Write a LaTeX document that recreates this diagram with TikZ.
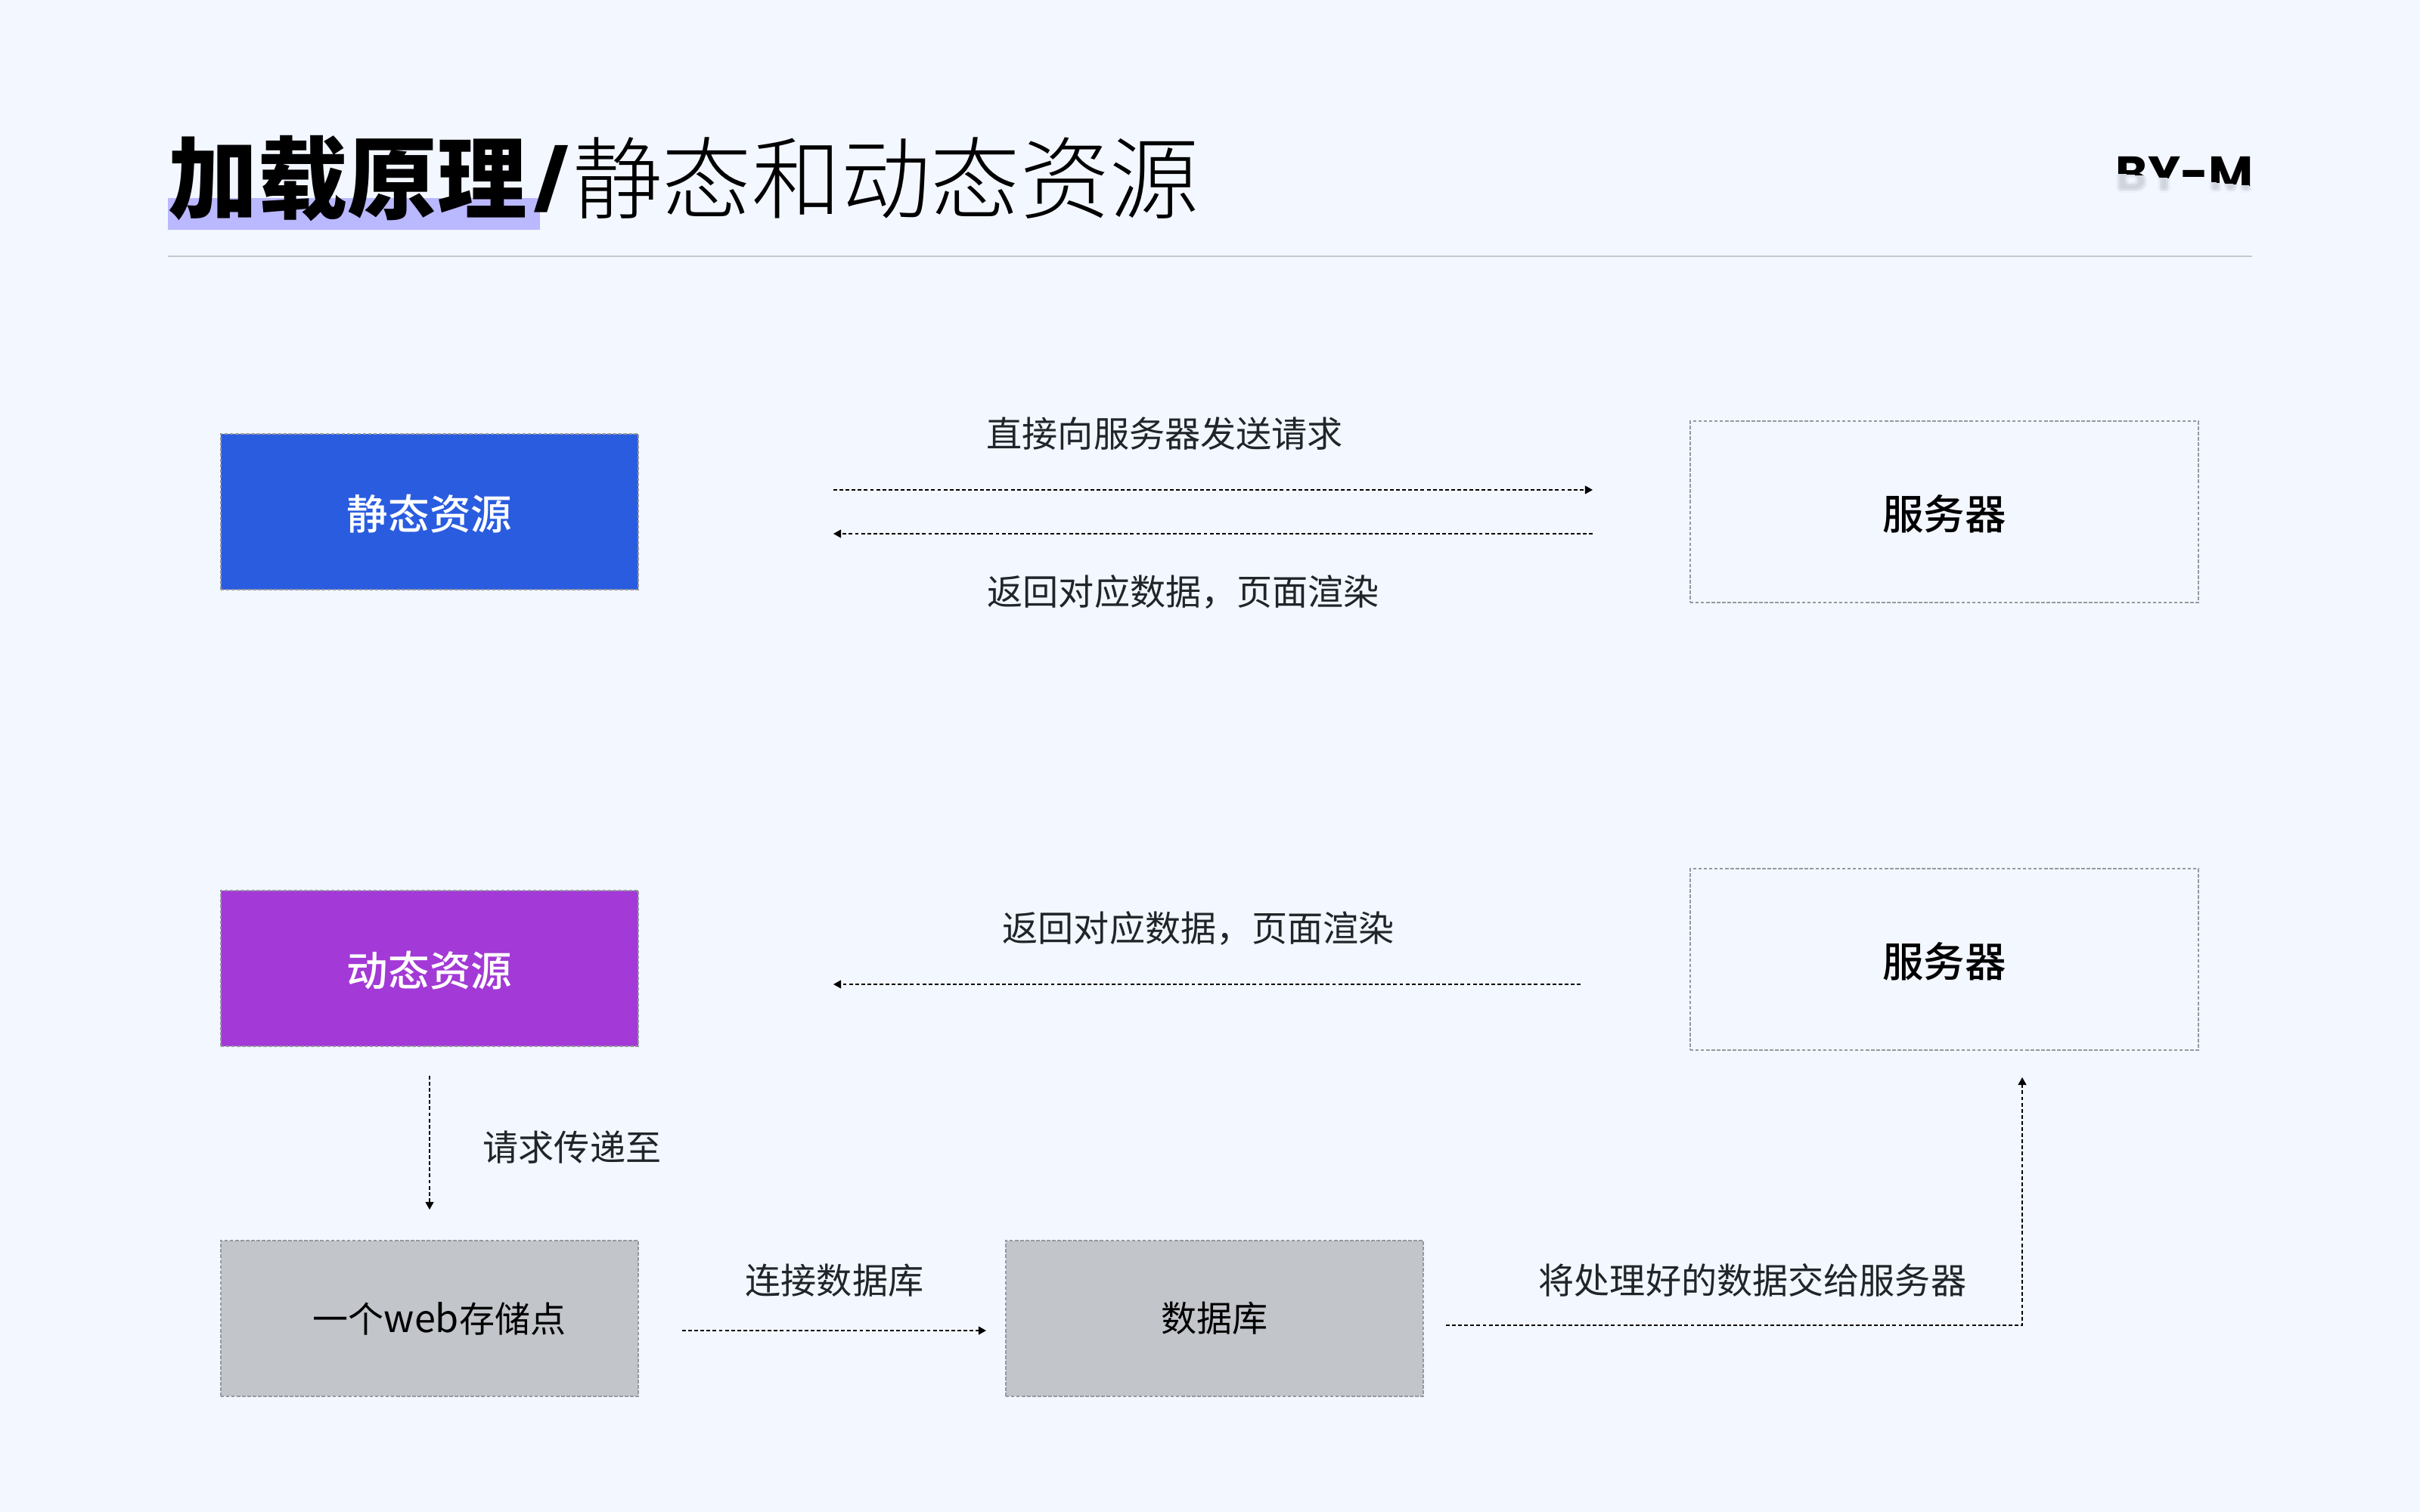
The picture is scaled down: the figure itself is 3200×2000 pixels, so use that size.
\documentclass[tikz,border=0pt]{standalone}
\usepackage{fontspec}
\usetikzlibrary{arrows.meta}
\newfontfamily\cjk{Noto Sans CJK SC}
\newfontfamily\cjkblack{Noto Sans CJK SC Black}
\newfontfamily\cjklight{Noto Sans CJK SC Light}
\newfontfamily\cjkmed{Noto Sans CJK SC Medium}
\newfontfamily\logofont{Poppins}
\definecolor{bgc}{HTML}{F3F7FF}
\definecolor{inkc}{HTML}{1F2529}
\definecolor{edgec}{HTML}{96999E}
\definecolor{bluec}{HTML}{2A5CE0}
\definecolor{purplec}{HTML}{A339D6}
\definecolor{grayc}{HTML}{C2C5CA}
\definecolor{markc}{HTML}{BAB8FF}
\definecolor{rulec}{HTML}{C6C8C9}
\tikzset{
  x=0.01cm,y=-0.01cm,
  boxbase/.style={rectangle,inner sep=0,minimum width=5.52cm,minimum height=2.06cm,draw=edgec,line width=0.6pt,dash pattern=on 1.3pt off 0.7pt},
  heavybox/.style={boxbase,text=white,text height=0.5cm,text depth=0.036cm,font=\cjkmed\fontsize{15.5}{15.5}\selectfont},
  graybox/.style={boxbase,fill=grayc,text=black,font=\cjk\fontsize{13.37}{13.37}\selectfont},
  serverbox/.style={boxbase,minimum width=6.72cm,minimum height=2.39cm,text=black,text height=0.5cm,text depth=0.036cm,font=\cjkmed\fontsize{15.5}{15.5}\selectfont},
  lbl/.style={inner sep=0,anchor=base west,text=inkc,font=\cjk\fontsize{13.4}{13.4}\selectfont},
  conn/.style={line width=0.55pt,dash pattern=on 1.4pt off 0.9pt,-{Triangle[length=2.9pt,width=3.1pt]},black},
}
\begin{document}
\begin{tikzpicture}
\fill[bgc] (0,0) rectangle (3200,2000);
\useasboundingbox (0,0) rectangle (3200,2000);
% title
\fill[markc] (222,262) rectangle (714,304);
\node[inner sep=0,anchor=base west,font=\cjkblack\fontsize{33.7}{33.7}\selectfont] (t1) at (222,281) {加载原理};
\node[inner sep=0,anchor=base west,font=\logofont\bfseries\fontsize{33.6}{33.6}\selectfont] (t2) at (705,267) {\scalebox{0.88}[0.66]{/}};
\node[inner sep=0,anchor=base west,font=\cjklight\fontsize{33.63}{33.63}\selectfont] (t3) at (757,281) {静态和动态资源};
\draw[rulec,line width=0.7pt] (222,339) coordinate (r1) -- (2978,339) coordinate (r2);
% logo
\begin{scope}
\clip (2790,195) -- (2985,195) -- (2985,246) -- (2790,228) -- cycle;
\node[inner sep=0,anchor=base west,font=\logofont\bfseries\fontsize{18.3}{18.3}\selectfont] (logo) at (2797,252) {BY-M};
\end{scope}
\begin{scope}
\clip (2790,228) -- (2985,246) -- (2985,262) -- (2790,262) -- cycle;
\foreach \dx/\dy in {-3/0,3/0,0/-3,0/3,-2/-2,2/2,0/0}{
\node[inner sep=0,anchor=base west,opacity=0.02,font=\logofont\bfseries\fontsize{18.3}{18.3}\selectfont] at (2797+\dx,252+\dy) {BY-M};
}
\end{scope}
% boxes
\node[heavybox,fill=bluec] (stat) at (568,677) {静态资源};
\node[heavybox,fill=purplec] (dyn) at (568,1281) {动态资源};
\node[serverbox] (srv1) at (2571,677) {服务器};
\node[serverbox] (srv2) at (2571,1269) {服务器};
\node[graybox,minimum width=5.52cm,text width=5.52cm,align=left] (web) at (568,1744) {\hspace{1.22cm}一个{\fontsize{14.3}{14.3}\selectfont web}存储点};
\node[graybox] (db) at (1606,1744) {数据库};
% labels
\node[lbl] (l1) at (1304,591) {直接向服务器发送请求};
\node[lbl] (l2) at (1305,800) {返回对应数据，页面渲染};
\node[lbl] (l3) at (1325,1245) {返回对应数据，页面渲染};
\node[lbl] (l4) at (638,1535) {请求传递至};
\node[lbl] (l5) at (985,1711) {连接数据库};
\node[lbl] (l6) at (2034,1711) {将处理好的数据交给服务器};
% connectors
\coordinate (a1s) at (1102,648); \coordinate (a1e) at (2106,648);
\coordinate (a2s) at (2106,706); \coordinate (a2e) at (1102,706);
\coordinate (a3s) at (2090,1302); \coordinate (a3e) at (1102,1302);
\coordinate (a4s) at (568,1423); \coordinate (a4e) at (568,1600);
\coordinate (a5s) at (902,1760); \coordinate (a5e) at (1304,1760);
\coordinate (a6s) at (1912,1753); \coordinate (a6b) at (2674,1753); \coordinate (a6e) at (2674,1425);
\draw[conn] (a1s) -- (a1e);
\draw[conn] (a2s) -- (a2e);
\draw[conn] (a3s) -- (a3e);
\draw[conn] (a4s) -- (a4e);
\draw[conn] (a5s) -- (a5e);
\draw[conn] (a6s) -- (a6b) -- (a6e);
\end{tikzpicture}
\end{document}
